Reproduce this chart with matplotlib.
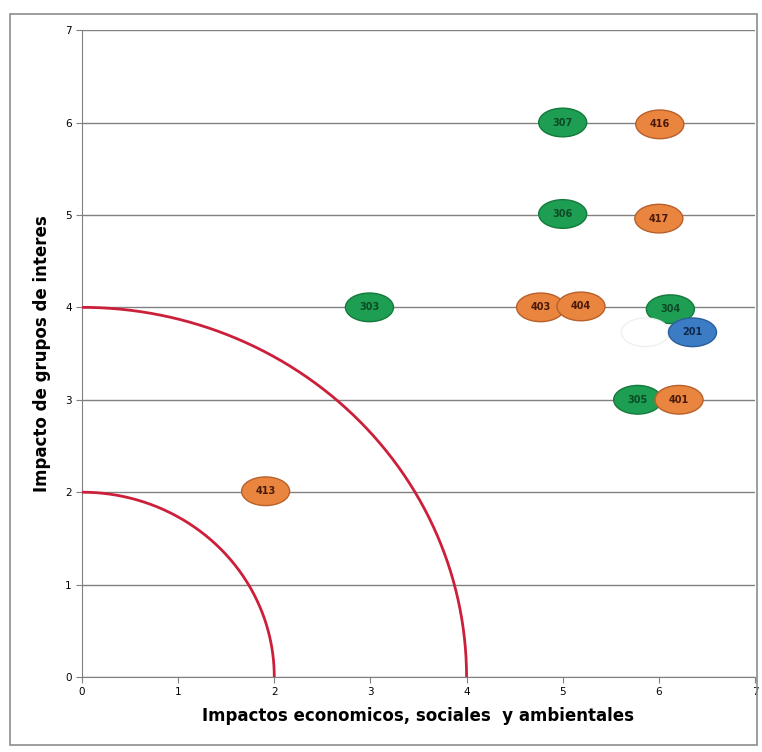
import numpy as np
import matplotlib.pyplot as plt
from matplotlib.patches import Ellipse, Rectangle

# issue codes and their position on the matrix
labels = ["307", "416", "306", "417", "303", "403", "404", "304", "", "201", "305", "401", "413"]
x_vals = [5.0, 6.01, 5.0, 6.0, 2.99, 4.77, 5.19, 6.12, 5.86, 6.35, 5.78, 6.21, 1.91]
y_vals = [6.0, 5.98, 5.01, 4.96, 4.0, 4.0, 4.01, 3.98, 3.73, 3.73, 3.0, 3.0, 2.01]
groups = ["g", "o", "g", "o", "g", "o", "o", "g", "w", "b", "g", "o", "o"]

radii = [2, 4]

fill = {"g": "#1e9e52", "o": "#ea8540", "b": "#3b7cc4", "w": "white"}
edge = {"g": "#137a3b", "o": "#b8602a", "b": "#2a5e99", "w": "#f0f0f0"}
txt = {"g": "#0d4a25", "o": "#4a1a08", "b": "#10284a", "w": "black"}

fig = plt.figure(figsize=(7.62, 7.52), dpi=100)
ax = fig.add_axes([0.1076, 0.0997, 0.8832, 0.8603])

# quarter circles
t = np.linspace(0, np.pi / 2, 300)
for r in radii:
    ax.plot(r * np.cos(t), r * np.sin(t), color="#cc1f3a", lw=2.0, zorder=3)

for lab, xv, yv, g in zip(labels, x_vals, y_vals, groups):
    e = Ellipse((xv, yv), 0.50, 0.31, facecolor=fill[g], edgecolor=edge[g],
                lw=1.0, zorder=4)
    ax.add_patch(e)
    if lab:
        ax.text(xv, yv, lab, ha="center", va="center", fontsize=7,
                color=txt[g], zorder=5, fontweight="bold")

ax.set_xlim(0, 7)
ax.set_ylim(0, 7)
ax.set_xticks(range(8))
ax.set_yticks(range(8))
ax.yaxis.grid(True, color="#808080", lw=1.0)
ax.set_axisbelow(True)
for s in ["top", "right"]:
    ax.spines[s].set_visible(False)
for s in ["left", "bottom"]:
    ax.spines[s].set_color("#808080")
ax.tick_params(labelsize=7.5, colors="#808080", labelcolor="black", length=4)

ax.set_xlabel("Impactos economicos, sociales  y ambientales", fontsize=12,
              fontweight="bold", labelpad=7)
ax.set_ylabel("Impacto de grupos de interes", fontsize=12,
              fontweight="bold", labelpad=10)

# outer chart border
fig.patches.append(Rectangle((10 / 762, 7 / 752), 747 / 762, 731 / 752,
                             transform=fig.transFigure, fill=False,
                             edgecolor="#8c8c8c", lw=1.2))

fig.savefig("out.png", dpi=100)
